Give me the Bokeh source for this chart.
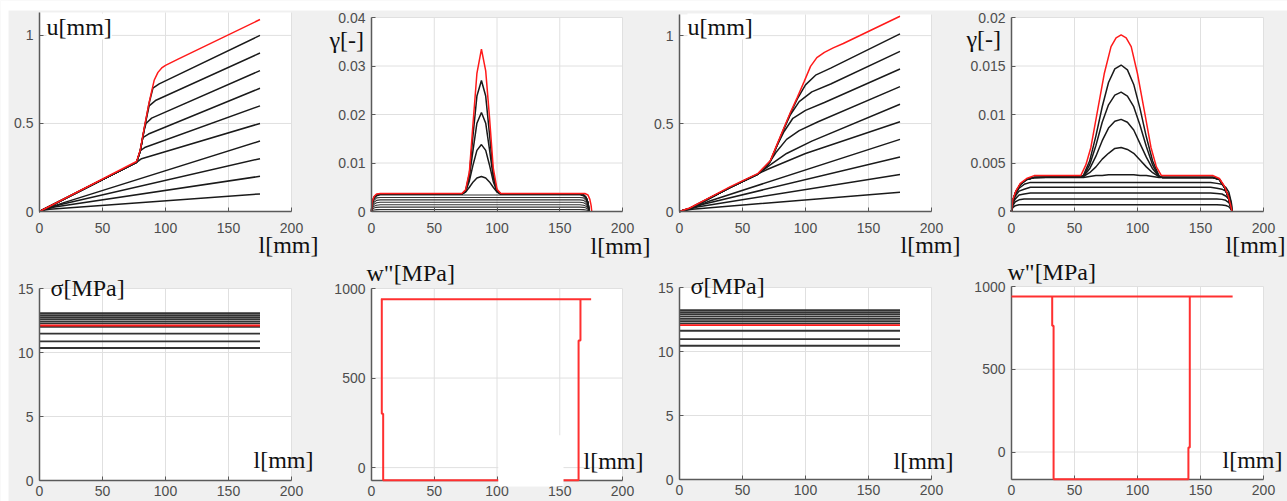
from bokeh.plotting import figure
from bokeh.models import (Range1d, FixedTicker, Label, LinearAxis, CustomJSTickFormatter)
from bokeh.embed import file_html
from bokeh.resources import INLINE

# ------------------------------------------------------------------ data
x_ticks = [0, 50, 100, 150, 200]
beam_x = [0, 175]

# ---- u [mm], left case ----
u1_red_x = [0, 77, 80, 83, 87, 91, 94, 97, 100, 110, 175]
u1_red_y = [0, 0.284, 0.35, 0.47, 0.62, 0.745, 0.79, 0.815, 0.83, 0.865, 1.09]
u1_black_x = [
    [0, 3, 8, 175],
    [0, 4, 12, 175],
    [0, 5, 16, 175],
    [0, 6, 20, 175],
    [0, 77, 81, 175],
    [0, 77, 80, 84, 175],
    [0, 77, 80, 82, 86.5, 175],
    [0, 77, 80, 83, 84.5, 89, 175],
    [0, 77, 80, 83, 87, 92, 175],
    [0, 77, 80, 83, 87, 90, 95, 175],
]
u1_black_y = [
    [0, 0.007, 0.013, 0.10],
    [0, 0.011, 0.025, 0.20],
    [0, 0.014, 0.038, 0.30],
    [0, 0.018, 0.052, 0.40],
    [0, 0.279, 0.30, 0.50],
    [0, 0.279, 0.345, 0.365, 0.60],
    [0, 0.279, 0.345, 0.42, 0.44, 0.70],
    [0, 0.279, 0.345, 0.46, 0.50, 0.53, 0.80],
    [0, 0.279, 0.345, 0.465, 0.60, 0.63, 0.90],
    [0, 0.279, 0.345, 0.465, 0.615, 0.70, 0.725, 1.00],
]

# ---- u [mm], right case ----
u2_red_x = [0, 8, 20, 40, 62, 72, 77.5, 83, 88, 93.5, 99, 104, 109, 115, 122, 130, 175]
u2_red_y = [0, 0.02, 0.065, 0.14, 0.215, 0.288, 0.383, 0.478, 0.563, 0.649, 0.74, 0.825, 0.875, 0.905, 0.93, 0.955, 1.11]
u2_black_x = [
    [0, 4, 10, 175],
    [0, 5, 14, 175],
    [0, 7, 18, 175],
    [0, 9, 24, 175],
    [0, 8, 20, 40, 50, 70, 100, 175],
    [0, 8, 20, 40, 62, 72, 85, 105, 175],
    [0, 8, 20, 40, 62, 70, 77, 85, 95, 110, 175],
    [0, 8, 20, 40, 62, 72, 77.5, 83, 90, 100, 115, 175],
    [0, 8, 20, 40, 62, 72, 77.5, 83, 88, 95, 105, 120, 175],
    [0, 8, 20, 40, 62, 72, 77.5, 83, 88, 93.5, 100, 108, 120, 175],
]
u2_black_y = [
    [0, 0.006, 0.013, 0.11],
    [0, 0.009, 0.026, 0.21],
    [0, 0.013, 0.040, 0.31],
    [0, 0.018, 0.060, 0.41],
    [0, 0.017, 0.061, 0.136, 0.172, 0.24, 0.33, 0.51],
    [0, 0.017, 0.061, 0.136, 0.211, 0.265, 0.33, 0.40, 0.61],
    [0, 0.017, 0.061, 0.136, 0.211, 0.262, 0.34, 0.41, 0.46, 0.51, 0.71],
    [0, 0.017, 0.061, 0.136, 0.211, 0.284, 0.375, 0.455, 0.53, 0.575, 0.62, 0.81],
    [0, 0.017, 0.061, 0.136, 0.211, 0.284, 0.378, 0.472, 0.55, 0.625, 0.68, 0.725, 0.91],
    [0, 0.017, 0.061, 0.136, 0.211, 0.284, 0.378, 0.473, 0.558, 0.64, 0.72, 0.775, 0.815, 1.01],
]

# ---- gamma [-], left case ----
g1_red_x = [0, 0.5, 2, 4, 7, 72, 75, 78, 81, 84, 87.6, 91, 94, 97, 100, 103, 170, 172.5, 174, 175, 175.5]
g1_red_y = [0, 0.0019, 0.0031, 0.0036, 0.0037, 0.0037, 0.0045, 0.0082, 0.0185, 0.0285, 0.0335,
            0.0290, 0.0195, 0.0090, 0.0046, 0.0037, 0.0037, 0.0034, 0.0025, 0.0012, 0]
g1_flat_x = [0, 0.5, 2, 4, 7, 166, 169, 171, 172.5, 173.5]
g1_flat_y = [
    [0, 0.0002, 0.00032, 0.00038, 0.0004, 0.0004, 0.00038, 0.00032, 0.0002, 0],
    [0, 0.00045, 0.00072, 0.00086, 0.0009, 0.0009, 0.00086, 0.00072, 0.00045, 0],
    [0, 0.0007, 0.0011, 0.0013, 0.0014, 0.0014, 0.0013, 0.0011, 0.0007, 0],
    [0, 0.00095, 0.0015, 0.0018, 0.0019, 0.0019, 0.0018, 0.0015, 0.00095, 0],
    [0, 0.0012, 0.0019, 0.0023, 0.0024, 0.0024, 0.0023, 0.0019, 0.0012, 0],
    [0, 0.0015, 0.0023, 0.0028, 0.0029, 0.0029, 0.0028, 0.0023, 0.0015, 0],
    [0, 0.0017, 0.0027, 0.0032, 0.0034, 0.0034, 0.0032, 0.0027, 0.0017, 0],
]
g1_peak_x = [0, 0.5, 2, 4, 7, 72, 75, 78, 81, 84, 87.6, 91, 94, 97, 100, 103, 166, 169, 171, 172.5, 173.5]
g1_peak_y = [
    [0, 0.0018, 0.0029, 0.0034, 0.0036, 0.0036, 0.0040, 0.0050, 0.0061, 0.0069, 0.0072,
     0.0069, 0.0061, 0.0050, 0.0040, 0.0036, 0.0036, 0.0034, 0.0029, 0.0018, 0],
    [0, 0.0018, 0.0029, 0.0034, 0.0036, 0.0036, 0.0041, 0.0063, 0.0097, 0.0126, 0.0138,
     0.0126, 0.0096, 0.0062, 0.0041, 0.0036, 0.0036, 0.0034, 0.0029, 0.0018, 0],
    [0, 0.0018, 0.0029, 0.0034, 0.0036, 0.0036, 0.0042, 0.0072, 0.0128, 0.0182, 0.0204,
     0.0182, 0.0128, 0.0071, 0.0042, 0.0036, 0.0036, 0.0034, 0.0029, 0.0018, 0],
    [0, 0.0018, 0.0029, 0.0034, 0.0036, 0.0036, 0.0043, 0.0078, 0.0160, 0.0238, 0.0270,
     0.0238, 0.0160, 0.0077, 0.0043, 0.0036, 0.0036, 0.0034, 0.0029, 0.0018, 0],
]

# ---- gamma [-], right case ----
g2_red_x = [0, 1, 3.4, 7, 12, 18, 55, 59, 63, 68, 73.6, 79, 83, 87, 91, 95, 100, 105.4, 110.7,
            115, 119, 160, 165, 169, 172, 174, 175]
g2_red_y = [0, 0.0012, 0.0021, 0.0029, 0.0034, 0.0037, 0.0037, 0.0048, 0.0066, 0.0102, 0.0142,
            0.0170, 0.0179, 0.0182, 0.0179, 0.0170, 0.0142, 0.0104, 0.0066, 0.0046, 0.0037,
            0.0037, 0.0034, 0.0026, 0.0016, 0.0006, 0]
g2_flat_x = [0, 1, 3, 6, 10, 15, 20, 158, 163, 167, 170, 172.5, 174.5, 175]
g2_flat_y = [
    [0, 0.0004, 0.0006, 0.0007, 0.0007, 0.0007, 0.0007, 0.0007, 0.0007, 0.00068, 0.00062, 0.0005, 0.0002, 0],
    [0, 0.0006, 0.0010, 0.0012, 0.0013, 0.0013, 0.0013, 0.0013, 0.0013, 0.00125, 0.00115, 0.0009, 0.0004, 0],
    [0, 0.0008, 0.0013, 0.0017, 0.0018, 0.0019, 0.0019, 0.0019, 0.00185, 0.0018, 0.0016, 0.0013, 0.0006, 0],
    [0, 0.0009, 0.0016, 0.0021, 0.0023, 0.0025, 0.0025, 0.0025, 0.0024, 0.0023, 0.0021, 0.0017, 0.0008, 0],
    [0, 0.0010, 0.0018, 0.0024, 0.0028, 0.0030, 0.0030, 0.0030, 0.0029, 0.0028, 0.0025, 0.0020, 0.0009, 0],
]
g2_peak_x = [0, 1, 3.4, 7, 12, 18, 57, 62, 67, 72, 77, 82, 87, 92, 97, 102, 107, 112, 117, 120,
             160, 165, 169, 172, 174, 175]
g2_peak_y = [
    [0, 0.0011, 0.0020, 0.0028, 0.0033, 0.0035, 0.0035, 0.0036, 0.0037, 0.0037, 0.0038, 0.0038, 0.0038,
     0.0038, 0.0038, 0.0037, 0.0037, 0.0036, 0.0035, 0.0035, 0.0035, 0.0033, 0.0025, 0.0015, 0.0005, 0],
    [0, 0.0011, 0.0020, 0.0028, 0.0033, 0.0035, 0.0036, 0.0040, 0.0046, 0.0054, 0.0060, 0.0065, 0.0066,
     0.0064, 0.0060, 0.0053, 0.0046, 0.0040, 0.0036, 0.0035, 0.0035, 0.0033, 0.0025, 0.0015, 0.0005, 0],
    [0, 0.0011, 0.0020, 0.0028, 0.0033, 0.0035, 0.0036, 0.0044, 0.0057, 0.0073, 0.0086, 0.0093, 0.0095,
     0.0092, 0.0084, 0.0070, 0.0056, 0.0044, 0.0036, 0.0035, 0.0035, 0.0033, 0.0025, 0.0015, 0.0005, 0],
    [0, 0.0011, 0.0020, 0.0028, 0.0033, 0.0035, 0.0036, 0.0048, 0.0068, 0.0092, 0.0110, 0.0120, 0.0123,
     0.0119, 0.0108, 0.0089, 0.0067, 0.0048, 0.0036, 0.0035, 0.0035, 0.0033, 0.0025, 0.0015, 0.0005, 0],
    [0, 0.0011, 0.0020, 0.0028, 0.0033, 0.0035, 0.0037, 0.0052, 0.0078, 0.0108, 0.0133, 0.0147, 0.0151,
     0.0146, 0.0131, 0.0106, 0.0077, 0.0052, 0.0037, 0.0035, 0.0035, 0.0033, 0.0025, 0.0015, 0.0005, 0],
]

# ---- sigma [MPa] ----
sig1_black = [10.35, 10.87, 11.47, 12.0, 12.27, 12.43, 12.6, 12.76, 12.92, 13.07]
sig1_red = 12.11
sig2_black = [10.45, 10.97, 11.62, 12.19, 12.37, 12.56, 12.74, 12.92, 13.07, 13.23]
sig2_red = 12.06

# ---- w'' [MPa] ----
w1_top_x = [7.5, 175]
w1_top_y = [940, 940]
w1_loop_x = [8.2, 8.2, 9.3, 9.3, 165.0, 165.0, 166.5, 166.5]
w1_loop_y = [940, 300, 300, -70, -70, 710, 710, 940]
w2_top_x = [0, 175.5]
w2_top_y = [940, 940]
w2_loop_x = [32.3, 32.3, 33.4, 33.4, 140.4, 140.4, 141.5, 141.5]
w2_loop_y = [940, 763, 763, -164, -164, 28, 28, 940]

# tick sets
u_ticks = [0, 0.5, 1]
g1_ticks = [0, 0.01, 0.02, 0.03, 0.04]
g2_ticks = [0, 0.005, 0.01, 0.015, 0.02]
sig_ticks = [0, 5, 10, 15]
w_ticks = [0, 500, 1000]

# ------------------------------------------------------------------ canvas
W, H = 1287, 501
BLACK = "#1a1a1a"
RED = "#ff1a1a"
WRED = "#ff3030"
AX = "#5a5a5a"
GRID = "#e0e0e0"

p = figure(width=W, height=H, x_range=Range1d(0, W), y_range=Range1d(H, 0),
           x_axis_type=None, y_axis_type=None, output_backend="svg",
           toolbar_location=None, tools="", title=None,
           min_border_left=0, min_border_right=0, min_border_top=0, min_border_bottom=0)
p.background_fill_color = "#f0f0f0"
p.border_fill_color = "#f0f0f0"
p.outline_line_color = None

# white margins of the scanned page (page pixels)
p.quad(left=[0], right=[W], top=[0], bottom=[10], fill_color="white", line_color=None)
p.quad(left=[0], right=[8], top=[0], bottom=[H], fill_color="white", line_color=None)

# panel placement: frame pixels (left, right, top, bottom), y limits, y ticks, x label standoff
PANELS = {
    "1": ((39, 291, 12, 211), (0, 1.13), u_ticks, 11),
    "2": ((371, 622, 17, 211), (0, 0.04), g1_ticks, 11),
    "3": ((679, 931, 14, 211), (0, 1.12), u_ticks, 11),
    "4": ((1011, 1263, 17, 211), (0, 0.02), g2_ticks, 11),
    "5": ((39, 291, 288, 480), (0, 15), sig_ticks, 5),
    "6": ((371, 622, 288, 480), (-72, 1000), w_ticks, 5),
    "7": ((679, 931, 287, 479), (0, 15), sig_ticks, 5),
    "8": ((1011, 1263, 286, 479), (-166, 1000), w_ticks, 5),
}

xr, yr = {}, {}
for k, ((pl, pr, pt, pb), (y0, y1), yt, sd) in PANELS.items():
    sx = 200.0 / (pr - pl)
    xr["x" + k] = Range1d(0 - pl * sx, 200 + (W - pr) * sx)
    sy = (y1 - y0) / float(pb - pt)
    yr["y" + k] = Range1d(y0 - (H - pb) * sy, y1 + pt * sy)
p.extra_x_ranges = xr
p.extra_y_ranges = yr


def setup_panel(k):
    (pl, pr, pt, pb), (y0, y1), yt, sd = PANELS[k]
    rn = dict(x_range_name="x" + k, y_range_name="y" + k)
    p.quad(left=[0], right=[200], bottom=[y0], top=[y1], fill_color="white", line_color=None, **rn)
    p.segment(x0=x_ticks, x1=x_ticks, y0=[y0] * len(x_ticks), y1=[y1] * len(x_ticks),
              line_color=GRID, line_width=1, **rn)
    p.segment(x0=[0] * len(yt), x1=[200] * len(yt), y0=yt, y1=yt,
              line_color=GRID, line_width=1, **rn)
    xa = LinearAxis(fixed_location=y0, bounds=(0, 200), ticker=FixedTicker(ticks=x_ticks), **rn)
    ya = LinearAxis(fixed_location=0, bounds=(y0, y1), ticker=FixedTicker(ticks=yt),
                    formatter=CustomJSTickFormatter(code="return tick.toString();"), **rn)
    for a in (xa, ya):
        a.axis_line_color = AX
        a.axis_line_width = 1.5
        a.major_tick_line_color = AX
        a.major_tick_in = 4
        a.major_tick_out = 0
        a.minor_tick_line_color = None
        a.major_label_text_font = "Liberation Sans"
        a.major_label_text_font_size = "14px"
        a.major_label_text_color = "#4d4d4d"
    xa.major_label_standoff = sd
    ya.major_label_standoff = 6
    p.add_layout(xa, "below")
    p.add_layout(ya, "left")
    return rn


TEXT_DY = -8  # baseline correction for the renderer


def add_text(text, px, py, bg=None):
    p.add_layout(Label(x=px, y=py + TEXT_DY, text=text, text_font="Liberation Serif",
                       text_font_size="24px", text_color="#111111", text_align="left",
                       text_baseline="alphabetic", background_fill_color=bg))


# ---- top row ----
r = setup_panel("1")
p.multi_line(u1_black_x, u1_black_y, line_color=BLACK, line_width=1.5, **r)
p.line(u1_red_x, u1_red_y, line_color=RED, line_width=1.5, **r)

r = setup_panel("2")
p.multi_line([g1_flat_x] * len(g1_flat_y), g1_flat_y, line_color="#333333", line_width=1.1, **r)
p.multi_line([g1_peak_x] * len(g1_peak_y), g1_peak_y, line_color=BLACK, line_width=1.5, **r)
p.line(g1_red_x, g1_red_y, line_color=RED, line_width=1.5, **r)

r = setup_panel("3")
p.multi_line(u2_black_x, u2_black_y, line_color=BLACK, line_width=1.5, **r)
p.line(u2_red_x, u2_red_y, line_color=RED, line_width=1.5, **r)

r = setup_panel("4")
p.multi_line([g2_flat_x] * len(g2_flat_y), g2_flat_y, line_color=BLACK, line_width=1.5, **r)
p.multi_line([g2_peak_x] * len(g2_peak_y), g2_peak_y, line_color=BLACK, line_width=1.5, **r)
p.line(g2_red_x, g2_red_y, line_color=RED, line_width=1.5, **r)

# ---- bottom row ----
r = setup_panel("5")
p.multi_line([beam_x] * len(sig1_black), [[s, s] for s in sig1_black], line_color="#333333", line_width=1.8, **r)
p.line(beam_x, [sig1_red, sig1_red], line_color=RED, line_width=1.8, **r)

r = setup_panel("6")
p.line(w1_top_x, w1_top_y, line_color=WRED, line_width=2, level="overlay", **r)
p.line(w1_loop_x, w1_loop_y, line_color=WRED, line_width=2, level="overlay", **r)
# white patch present on the source image
p.quad(left=[101], right=[153], bottom=[-105], top=[180], fill_color="white", line_color=None,
       level="overlay", **r)

r = setup_panel("7")
p.multi_line([beam_x] * len(sig2_black), [[s, s] for s in sig2_black], line_color="#333333", line_width=1.8, **r)
p.line(beam_x, [sig2_red, sig2_red], line_color=RED, line_width=1.8, **r)

r = setup_panel("8")
p.line(w2_top_x, w2_top_y, line_color=WRED, line_width=2, level="overlay", **r)
p.line(w2_loop_x, w2_loop_y, line_color=WRED, line_width=2, level="overlay", **r)

# ---- axis texts (page pixels, baseline-left) ----
add_text("u[mm]", 46, 34, bg="white")
add_text("l[mm]", 258, 252)
add_text("γ[-]", 329, 47)
add_text("l[mm]", 590, 253)
add_text("u[mm]", 687, 34, bg="white")
add_text("l[mm]", 900, 252)
add_text("γ[-]", 966, 46)
add_text("l[mm]", 1225, 252)
add_text("σ[MPa]", 50, 295)
add_text("l[mm]", 253, 467)
add_text('w"[MPa]', 366, 280)
add_text("l[mm]", 583, 468)
add_text("σ[MPa]", 690, 293)
add_text("l[mm]", 893, 468)
add_text('w"[MPa]', 1007, 279)
add_text("l[mm]", 1222, 467)

open("out.html", "w").write(file_html(p, INLINE))
